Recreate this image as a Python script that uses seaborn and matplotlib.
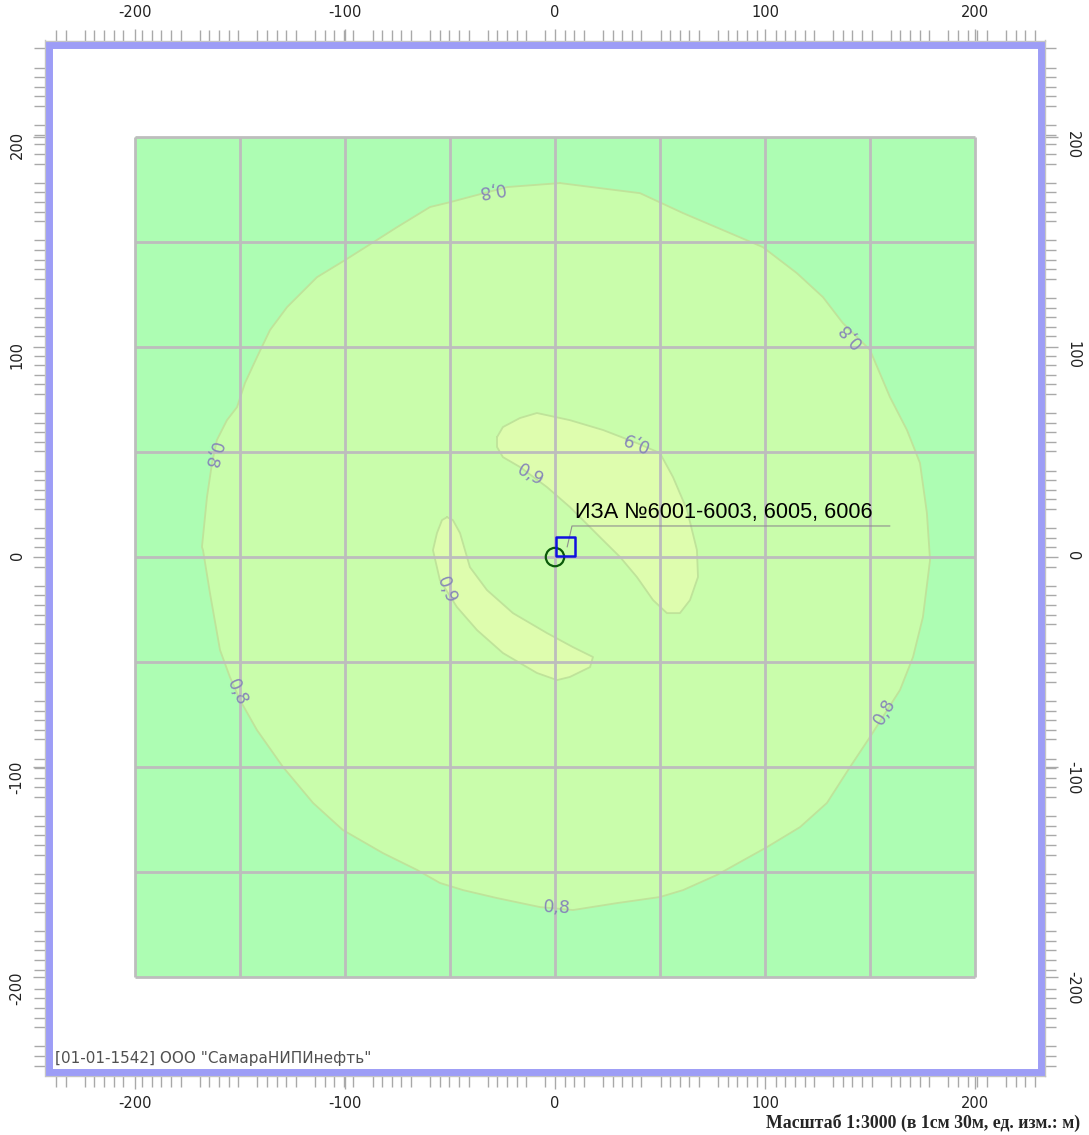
import numpy as np
import pandas as pd
import matplotlib
matplotlib.use("Agg")
import matplotlib.pyplot as plt
import seaborn as sns
from matplotlib.patches import Rectangle

# ---------------- data (chart units, metres) ----------------
# isoline 0.8 (closed ring)
iso08_x = [2.4, 21.4, 40.5, 61.0, 80.0, 99.0, 115.2, 127.6, 137.1, 150.0, 159.5, 167.6,
           173.8, 177.1, 178.6, 177.6, 175.2, 170.5, 164.3, 150.0, 140.5, 129.5, 116.7,
           101.0, 77.1, 61.0, 50.0, 29.5, 8.6, -7.1, -27.6, -43.8, -54.8, -65.7, -81.9,
           -101.0, -115.2, -129.5, -141.9, -150.0, -154.8, -159.5, -164.3, -167.6, -168.1,
           -165.7, -163.3, -161.0, -156.2, -151.4, -147.6, -141.9, -135.7, -127.6, -113.3,
           -100.0, -84.8, -75.2, -59.5, -50.0, -22.9]
iso08_y = [178.1, 175.7, 173.3, 163.8, 155.7, 147.6, 135.2, 123.8, 111.4, 98.6, 76.2, 60.5,
           44.8, 21.0, -1.4, -9.5, -28.6, -47.6, -63.3, -85.7, -100.0, -117.1, -128.6,
           -138.1, -151.4, -158.6, -161.9, -164.8, -168.1, -166.7, -162.4, -158.6, -155.2,
           -149.0, -141.0, -130.0, -117.1, -100.0, -82.4, -68.1, -57.1, -44.3, -17.1, 3.3,
           4.8, 28.6, 44.8, 55.7, 65.2, 71.4, 82.9, 95.2, 108.1, 119.0, 133.3, 141.4, 151.0,
           157.1, 166.7, 169.0, 176.2]
# isoline 0.9, north-east patch
iso09a_x = [-27.6, -24.8, -16.7, -8.6, 7.1, 22.9, 39.0, 50.0, 56.2, 62.9, 67.6, 68.1, 64.3,
            59.5, 53.3, 46.7, 39.0, 31.0, 21.4, 7.1, -3.8, -16.7, -24.8, -27.6]
iso09a_y = [57.1, 61.9, 66.2, 68.6, 65.2, 60.5, 54.3, 49.5, 38.1, 22.4, 3.3, -9.5, -20.5,
            -26.7, -26.7, -20.5, -9.5, 0.0, 9.5, 23.8, 33.3, 42.9, 47.6, 52.4]
# isoline 0.9, south-west patch
iso09b_x = [-51.4, -48.6, -45.2, -40.5, -32.4, -20.0, -3.8, 8.6, 18.1, 16.7, 7.1, 1.0, -8.6,
            -24.8, -37.1, -46.7, -54.8, -58.1, -56.2, -53.8]
iso09b_y = [19.0, 17.6, 11.4, -4.8, -15.7, -26.7, -36.2, -42.9, -47.6, -52.4, -57.1, -58.6,
            -55.2, -45.7, -34.8, -23.8, -11.0, 3.3, 11.4, 17.6]

# isoline labels
label_text = ["0,8", "0,8", "0,8", "0,8", "0,8", "0,8", "0,9", "0,9", "0,9"]
label_x = [-30.5, 140.5, -163.3, -151.4, 1.0, 157.1, 38.1, -11.5, -51.4]
label_y = [175.3, 106.0, 48.6, -64.3, -167.0, -73.8, 55.7, 39.0, -15.7]
label_rot = [190, 132, 255, -65, -3, 60, 158, -28, -68]

# source and its marker
source_x = [0.0]
source_y = [0.0]
iza_x = [5.0]
iza_y = [5.0]
iza_label = "ИЗА №6001-6003, 6005, 6006"

# axes / grid
tick_values = [-200, -100, 0, 100, 200]
grid_values = [-200, -150, -100, -50, 0, 50, 100, 150, 200]

# ---------------- style ----------------
sns.set_style("white")
plt.rcParams['font.family'] = ['DejaVu Sans']
plt.rcParams['axes.unicode_minus'] = False

c_out = "#adfdb3"
c_mid = "#c9fdab"
c_in = "#defdae"
c_iso = "#bfe39a"
c_grid = "#bdbdbd"
c_lab = "#8787b8"

fig = plt.figure(figsize=(10.89, 11.35), dpi=100)
ax = fig.add_axes([45.5 / 1089, (1135 - 1075.5) / 1135, 999 / 1089, 1035 / 1135])
ax.set_xlim(-242.6, 233.1)
ax.set_ylim(-246.9, 246.0)

g0, g1 = min(grid_values), max(grid_values)
ax.add_patch(Rectangle((g0, g0), g1 - g0, g1 - g0, fc=c_out, ec="none", zorder=1))
ax.fill(iso08_x, iso08_y, color=c_mid, zorder=1.2, lw=0)
ax.fill(iso09a_x, iso09a_y, color=c_in, zorder=1.4, lw=0)
ax.fill(iso09b_x, iso09b_y, color=c_in, zorder=1.4, lw=0)

for xs, ys in [(iso08_x, iso08_y), (iso09a_x, iso09a_y), (iso09b_x, iso09b_y)]:
    df = pd.DataFrame({"x": list(xs) + [xs[0]], "y": list(ys) + [ys[0]]})
    sns.lineplot(data=df, x="x", y="y", sort=False, estimator=None, color=c_iso,
                 lw=1.3, ax=ax, zorder=2, legend=False)

ax.vlines(grid_values, g0, g1, colors=c_grid, lw=2.0, zorder=3)
ax.hlines(grid_values, g0, g1, colors=c_grid, lw=2.0, zorder=3)

for t, x, y, r in zip(label_text, label_x, label_y, label_rot):
    ax.text(x, y, t, rotation=r, rotation_mode="anchor", ha="center", va="center",
            color=c_lab, fontsize=12.5, zorder=4)

sns.scatterplot(x=source_x, y=source_y, marker="o", s=175, facecolors="none",
                edgecolor="#0a5a0a", linewidth=1.6, ax=ax, zorder=6, legend=False)
sns.scatterplot(x=iza_x, y=iza_y, marker="s", s=200, facecolors="none",
                edgecolor="#1010e0", linewidth=1.8, ax=ax, zorder=6, legend=False)

# leader and label
ax.plot([iza_x[0] + 0.8, iza_x[0] + 3.1, iza_x[0] + 154.5],
        [iza_y[0] - 0.2, iza_y[0] + 9.8, iza_y[0] + 9.8],
        color="#8f8f8f", lw=0.8, zorder=5)
ax.text(iza_x[0] + 4.5, iza_y[0] + 13.6, iza_label, fontsize=15.7,
        family="Liberation Sans", color="black", ha="left", va="baseline", zorder=7)

# frame
for sp in ax.spines.values():
    sp.set_color("#c4c4c4")
    sp.set_linewidth(1.0)
ax.add_patch(Rectangle((4 / 999, 4 / 1035), 1 - 8 / 999, 1 - 8 / 1035,
                       transform=ax.transAxes, fill=False, ec="#9d9df6", lw=5,
                       zorder=8, clip_on=False))

# ticks (ruler)
ruler_step = 4.57
minor = [k * ruler_step for k in range(-60, 61) if k % 6 != 4]
ax.set_xticks(tick_values)
ax.set_yticks(tick_values)
ax.set_xticklabels([str(v) for v in tick_values])
ax.set_yticklabels([str(v) for v in tick_values])
ax.set_xticks([m for m in minor if -242 < m < 233], minor=True)
ax.set_yticks([m for m in minor if -246 < m < 246], minor=True)
ax.tick_params(which="both", direction="out", top=True, bottom=True, left=True, right=True,
               labeltop=True, labelbottom=True, labelleft=True, labelright=True,
               color="#a9a9a9", width=1.0)
ax.tick_params(which="major", length=9, pad=6, labelsize=10.5, labelcolor="#222222")
ax.tick_params(which="minor", length=8)
for t in ax.yaxis.get_major_ticks():
    t.label1.set_rotation(90)
    t.label2.set_rotation(-90)
ax.set_xlabel("")
ax.set_ylabel("")

ax.text(0.0095, 0.012, '[01-01-1542] ООО "СамараНИПИнефть"', transform=ax.transAxes,
        fontsize=11, color="#505050", ha="left", va="baseline", zorder=9)
fig.text(1080 / 1089, 1 - 1123 / 1135, "Масштаб 1:3000 (в 1см 30м, ед. изм.: м)",
         ha="right", va="center", family="Liberation Serif", weight="bold", fontsize=12.8)

fig.savefig("out.png", dpi=100)
